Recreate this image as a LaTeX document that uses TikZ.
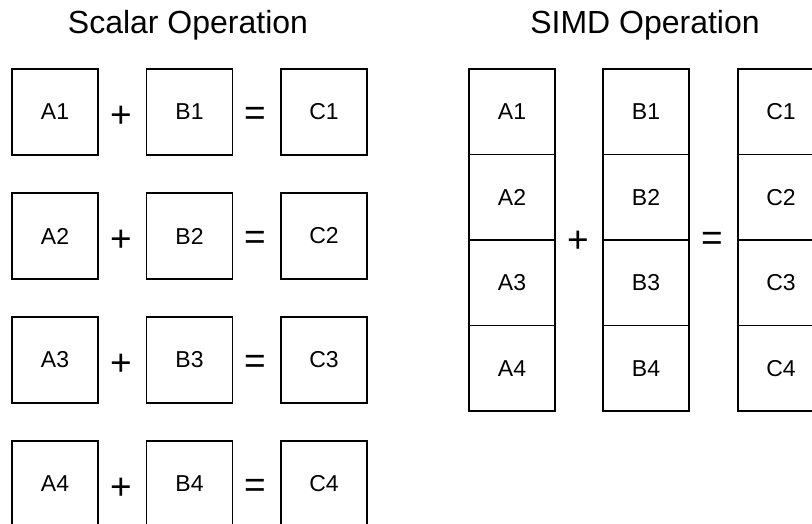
\documentclass[tikz,border=0pt]{standalone}
\usepackage{fontspec}
\setmainfont{Liberation Sans}
\begin{document}
\begin{tikzpicture}[x=1pt,y=-1pt,
  box/.style={draw, line width=1.3pt, minimum width=86pt, minimum height=86pt, inner sep=0pt, font=\fontsize{23}{23}\selectfont},
  cell/.style={draw, line width=1.3pt, minimum width=86pt, minimum height=85.5pt, inner sep=0pt, font=\fontsize{23}{23}\selectfont},
  op/.style={inner sep=0pt, font=\fontsize{37}{37}\selectfont},
  title/.style={anchor=base, inner sep=0pt, font=\fontsize{32}{32}\selectfont}]
\useasboundingbox (0,0) rectangle (812,524);
% titles
\node[title] (t1) at (188,34) {Scalar Operation};
\node[title] (t2) at (645,34) {SIMD Operation};
% scalar rows
\foreach \i/\y in {1/112,2/236,3/360,4/484}{
  \node[box] (sA\i) at (55,\y) {A\i};
  \node[box] (sB\i) at (189.5,\y) {B\i};
  \node[box] (sC\i) at (324,\y) {C\i};
  \node[op] (sp\i) at (121,\y+5) {+};
  \node[op] (se\i) at (255,\y+4) {=};
}
% SIMD columns
\foreach \i/\y in {1/111.75,2/197.25,3/282.75,4/368.25}{
  \node[cell] (vA\i) at (512,\y) {A\i};
  \node[cell] (vB\i) at (646,\y) {B\i};
  \node[cell] (vC\i) at (781,\y) {C\i};
}
\node[op] (vp) at (578,242) {+};
\node[op] (ve) at (712,241) {=};
\end{tikzpicture}
\end{document}
